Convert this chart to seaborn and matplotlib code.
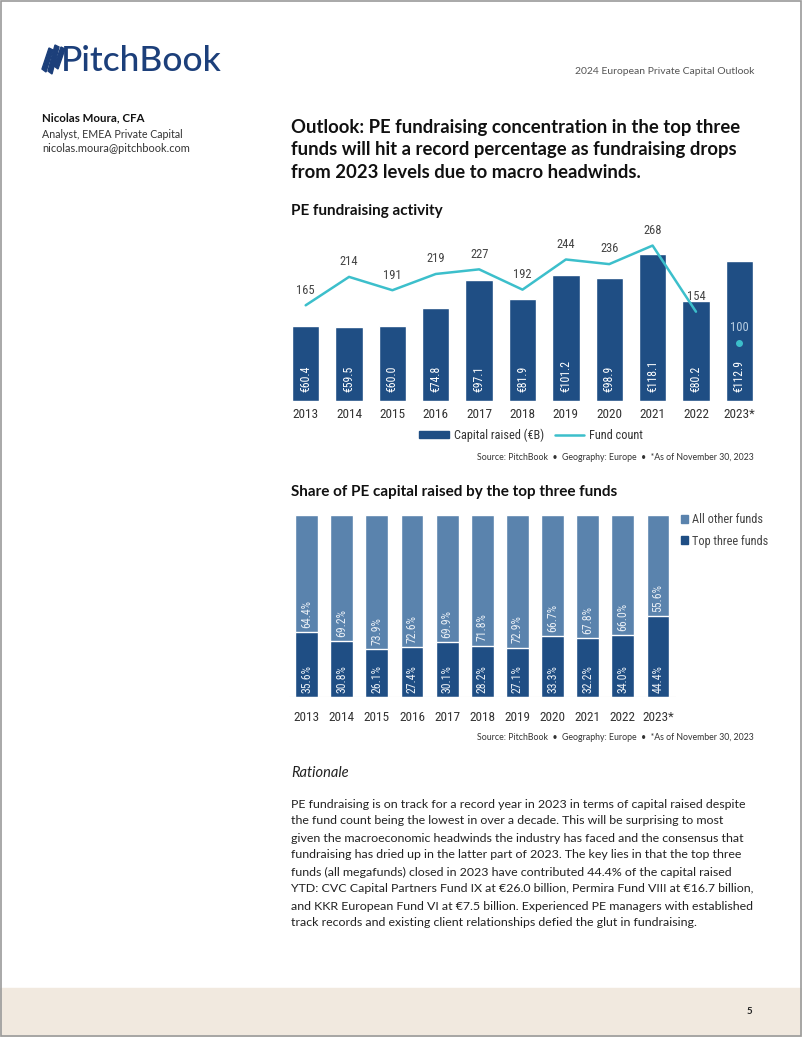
import numpy as np
import pandas as pd
import matplotlib
matplotlib.use("Agg")
import matplotlib.pyplot as plt
import matplotlib.patches as mpatches
from matplotlib.lines import Line2D
from matplotlib import font_manager
import seaborn as sns

# chart data
years = ["2013", "2014", "2015", "2016", "2017", "2018", "2019", "2020", "2021", "2022", "2023*"]
capital = [60.4, 59.5, 60.0, 74.8, 97.1, 81.9, 101.2, 98.9, 118.1, 80.2, 112.9]
fund_count = [165, 214, 191, 219, 227, 192, 244, 236, 268, 154, 100]
top_three = [35.6, 30.8, 26.1, 27.4, 30.1, 28.2, 27.1, 33.3, 32.2, 34.0, 44.4]
other_funds = [64.4, 69.2, 73.9, 72.6, 69.9, 71.8, 72.9, 66.7, 67.8, 66.0, 55.6]

NAVY = "#1f4e84"
STEEL = "#5a83ad"
TEAL = "#3cbfcb"
DARK = "#333333"

sns.set_style("white")
installed = {f.name for f in font_manager.fontManager.ttflist}
narrow = [f for f in ["Roboto Condensed", "Liberation Sans Narrow", "Lato"] if f in installed]
narrow += ["DejaVu Sans"]
body = ["Lato", "DejaVu Sans"]
plt.rcParams["font.family"] = narrow

W, H = 802, 1037
fig = plt.figure(figsize=(W / 100, H / 100), dpi=100)


def px(x, y):
    return x / W, 1 - y / H


# page frame, footer band
fig.patches.append(mpatches.Rectangle((0, 0), 1, (H - 988) / H, transform=fig.transFigure,
                                      color="#f1e9df", zorder=0))
fig.patches.append(mpatches.Rectangle((0.001, 0.001), 0.998, 0.998, transform=fig.transFigure,
                                      fill=False, ec="#9a9a9a", lw=1.2, zorder=5))

# logo
for dx, top, bot in [(0, 48, 72), (6, 45, 74), (12, 47, 69)]:
    xs = [42 + dx + 7, 42 + dx + 11, 42 + dx + 4, 42 + dx + 0]
    ys = [top, top + 2, bot, bot - 3]
    fig.patches.append(mpatches.Polygon([px(a, b) for a, b in zip(xs, ys)], closed=True,
                                        transform=fig.transFigure, color="#1c3f7a"))
fig.text(*px(61, 61), "PitchBook", fontsize=25.5, color="#1c3f7a", family=body,
         va="center", ha="left", fontweight="medium")
fig.text(*px(754, 71), "2024 European Private Capital Outlook", fontsize=7.5, color="#555555",
         family=body, ha="right", va="center")

# author block
fig.text(*px(42, 118), "Nicolas Moura, CFA", fontsize=8.3, fontweight="bold", color="#111111",
         family=body, va="center")
fig.text(*px(42, 134), "Analyst, EMEA Private Capital", fontsize=7.7, color="#333333",
         family=body, va="center")
fig.text(*px(42, 149), "nicolas.moura@pitchbook.com", fontsize=7.9, color="#333333",
         family=body, va="center")

# headline
headline = ["Outlook: PE fundraising concentration in the top three",
            "funds will hit a record percentage as fundraising drops",
            "from 2023 levels due to macro headwinds."]
for i, line in enumerate(headline):
    fig.text(*px(291, 127 + i * 22.5), line, fontsize=13.3, fontweight="bold", color="#111111",
             family=body, va="center")

# ---- chart 1: PE fundraising activity
fig.text(*px(291, 211), "PE fundraising activity", fontsize=11, fontweight="bold",
         color="#111111", family=body, va="center")

df1 = pd.DataFrame({"year": years, "capital": capital, "count": fund_count})
ax1 = fig.add_axes([284 / W, 1 - 401 / H, (761 - 284) / W, 174 / H])
sns.barplot(data=df1, x="year", y="capital", color=NAVY, width=0.63, saturation=1, ax=ax1)
ax1.set_ylim(0, 140)
ax1.set_xlim(-0.5, 10.5)
for i, v in enumerate(capital):
    ax1.text(i, 7, f"€{v:.1f}", rotation=90, ha="center", va="bottom", color="white",
             fontsize=8.5, family=narrow)

ax1b = ax1.twinx()
line_df = pd.DataFrame({"pos": np.arange(10), "count": fund_count[:10]})
sns.lineplot(data=line_df, x="pos", y="count", color=TEAL, lw=1.8, ax=ax1b)
ax1b.scatter([10], [fund_count[10]], color=TEAL, s=16, zorder=3)
ax1b.set_ylim(0, 300)
for i, v in enumerate(fund_count):
    col = "#b9cfe3" if i == 10 else "#444444"
    ax1b.text(i, v + 15, str(v), ha="center", va="bottom", color=col, fontsize=9,
              family=narrow)

for a in (ax1, ax1b):
    a.set_yticks([])
    a.set_xlabel("")
    a.set_ylabel("")
    for s in a.spines.values():
        s.set_visible(False)
ax1.tick_params(axis="x", length=0, labelsize=9.5, labelcolor=DARK, pad=5)
for t in ax1.get_xticklabels():
    t.set_family(narrow)

handles1 = [mpatches.Patch(color=NAVY, label="Capital raised (€B)"),
            Line2D([0], [0], color=TEAL, lw=1.8, label="Fund count")]
fig.legend(handles=handles1, loc="center", bbox_to_anchor=px(531, 435), ncol=2, frameon=False,
           prop={"family": narrow, "size": 8.8}, handlelength=2.4, handleheight=0.6,
           columnspacing=0.9, handletextpad=0.4, labelcolor=DARK)

source = "Source: PitchBook  •  Geography: Europe  •  *As of November 30, 2023"
fig.text(*px(754, 457), source, fontsize=6.3, color=DARK, family=body, ha="right", va="center")

# ---- chart 2: share of PE capital by top three
fig.text(*px(291, 492), "Share of PE capital raised by the top three funds", fontsize=11,
         fontweight="bold", color="#111111", family=body, va="center")

df2 = pd.DataFrame({"year": years, "top": top_three, "other": other_funds})
df2["total"] = df2["top"] + df2["other"]
ax2 = fig.add_axes([289 / W, 1 - 697 / H, (675.6 - 289) / W, 182 / H])
sns.barplot(data=df2, x="year", y="total", color=STEEL, width=0.65, saturation=1, ax=ax2)
sns.barplot(data=df2, x="year", y="top", color=NAVY, width=0.65, saturation=1, ax=ax2)
ax2.set_ylim(0, 100)
ax2.set_xlim(-0.5, 10.5)
ax2.axhline(0, color="#d8d8d8", lw=0.8)
for i, (t, o) in enumerate(zip(top_three, other_funds)):
    ax2.text(i, 2.3, f"{t:.1f}%", rotation=90, ha="center", va="bottom", color="#e8eef5",
             fontsize=8.5, family=narrow)
    ax2.text(i, t + 2.3, f"{o:.1f}%", rotation=90, ha="center", va="bottom", color="#e8eef5",
             fontsize=8.5, family=narrow)
ax2.set_yticks([])
ax2.set_xlabel("")
ax2.set_ylabel("")
for s in ax2.spines.values():
    s.set_visible(False)
ax2.tick_params(axis="x", length=0, labelsize=9.5, labelcolor=DARK, pad=10)
for t in ax2.get_xticklabels():
    t.set_family(narrow)

handles2 = [mpatches.Patch(color=STEEL, label="All other funds"),
            mpatches.Patch(color=NAVY, label="Top three funds")]
fig.legend(handles=handles2, loc="upper left", bbox_to_anchor=px(670, 502), ncol=1,
           frameon=False, prop={"family": narrow, "size": 8.8}, handlelength=0.6,
           handleheight=0.6, handletextpad=0.3, labelspacing=0.7, labelcolor="#444444")

fig.text(*px(754, 738), source, fontsize=6.3, color=DARK, family=body, ha="right", va="center")

# ---- rationale
fig.text(*px(291, 773), "Rationale", fontsize=10.5, style="italic", color="#222222",
         family=body, va="center")
para = ["PE fundraising is on track for a record year in 2023 in terms of capital raised despite",
        "the fund count being the lowest in over a decade. This will be surprising to most",
        "given the macroeconomic headwinds the industry has faced and the consensus that",
        "fundraising has dried up in the latter part of 2023. The key lies in that the top three",
        "funds (all megafunds) closed in 2023 have contributed 44.4% of the capital raised",
        "YTD: CVC Capital Partners Fund IX at €26.0 billion, Permira Fund VIII at €16.7 billion,",
        "and KKR European Fund VI at €7.5 billion. Experienced PE managers with established",
        "track records and existing client relationships defied the glut in fundraising."]
for i, line in enumerate(para):
    fig.text(*px(291, 804 + i * 17), line, fontsize=8.95, color="#222222", family=body,
             va="center")

fig.text(*px(752, 1012), "5", fontsize=7, fontweight="bold", color="#222222", family=body,
         ha="right", va="center")

fig.savefig("out.png", dpi=100)
